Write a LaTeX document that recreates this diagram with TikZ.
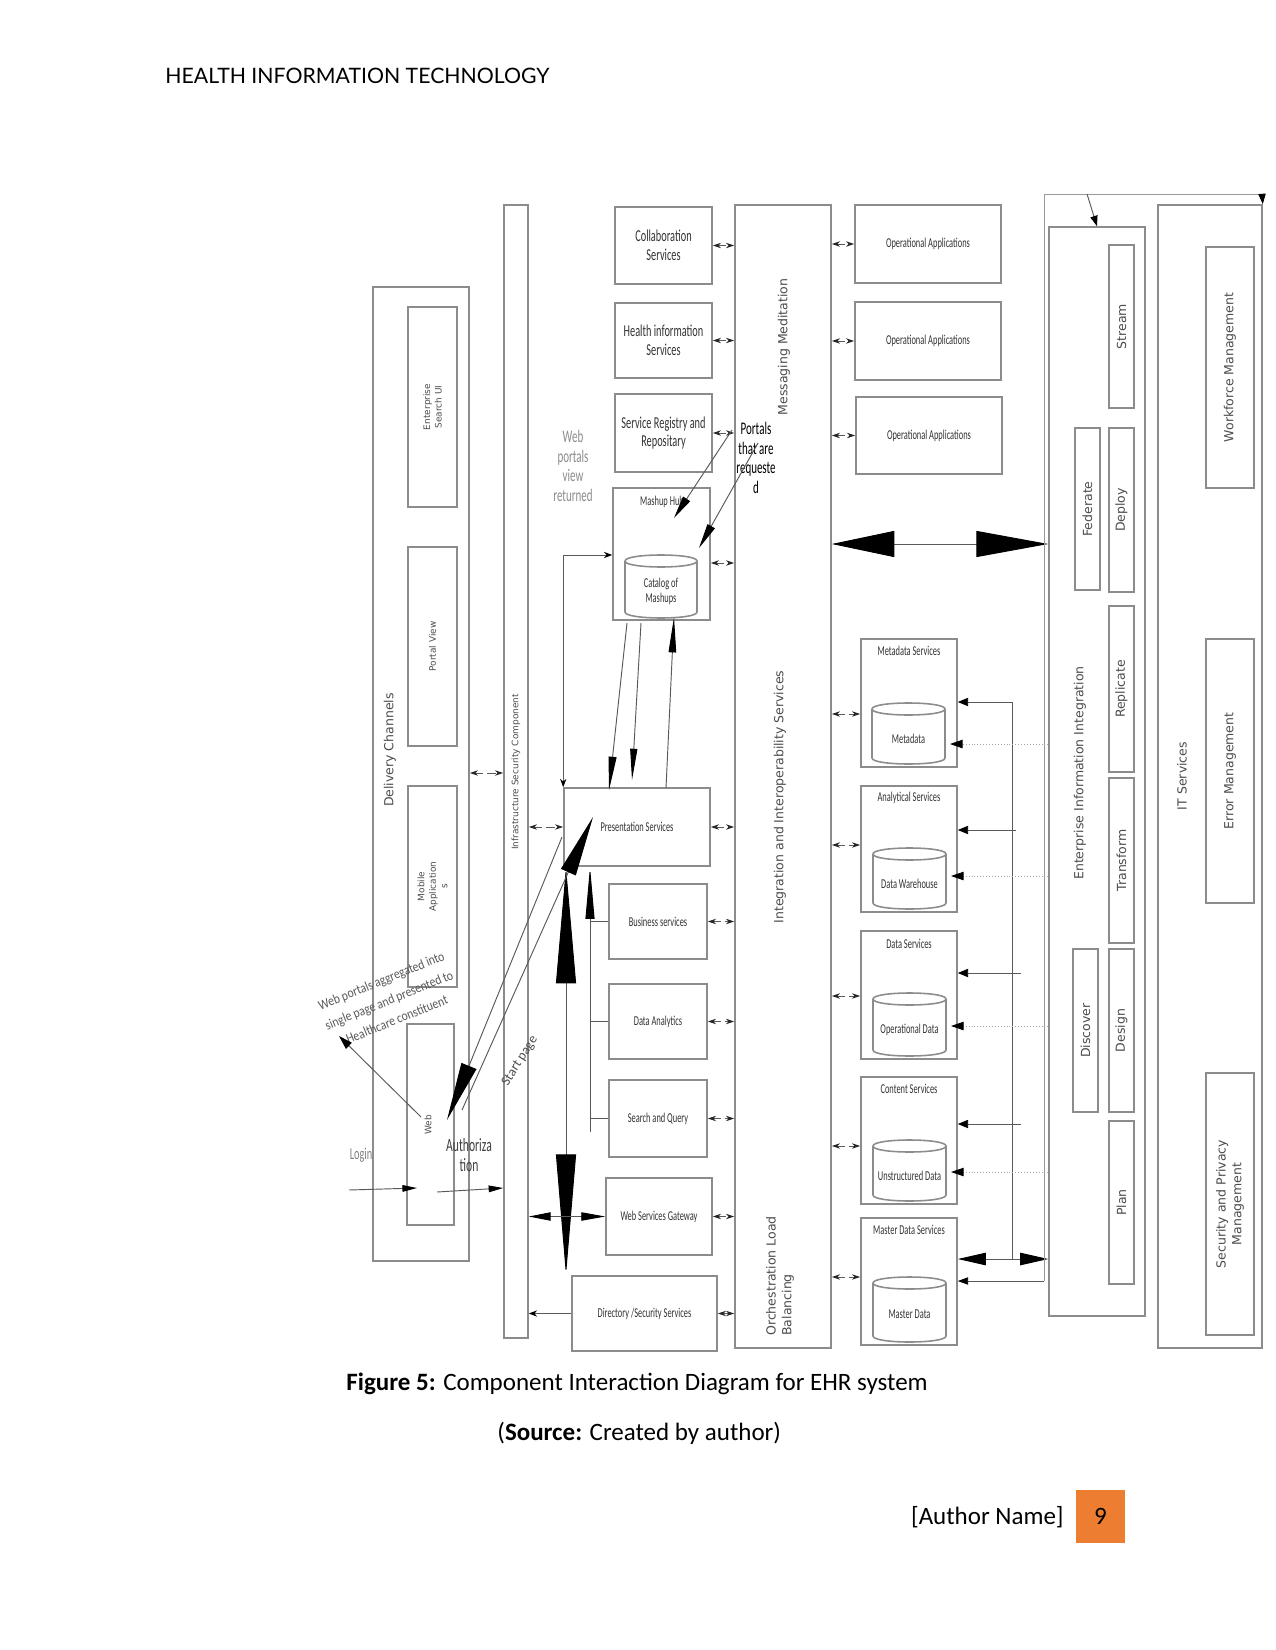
\documentclass[tikz,border=0pt]{standalone}
\usepackage{fontspec}
\setmainfont{Carlito}
\newfontfamily\latofont{Lato}
\newfontfamily\nrw[FakeStretch=0.62]{Carlito}
\newfontfamily\mnrw[FakeStretch=0.85]{Carlito}
\newfontfamily\dvs{DejaVu Sans}
\usetikzlibrary{arrows.meta,fit}
\definecolor{pgorange}{HTML}{ED7D31}
\tikzset{
  bx/.style={draw=black!45, line width=0.75pt},
  ln/.style={draw=black!65, line width=0.45pt},
  sdbl/.style={ln, {Stealth[length=4pt,width=2.6pt,color=black!85]}-{Stealth[length=4pt,width=2.6pt,color=black!85]}, dash pattern=on 4pt off 2pt},
  heavy/.style={draw=black!35, line width=0.4pt, densely dotted, -{Triangle[length=6pt,width=4pt,color=black]}},
  lab/.style={font=\nrw\fontsize{8}{9}\selectfont, text=black!80, align=center, inner sep=0pt},
  labs/.style={font=\nrw\fontsize{6.5}{7.5}\selectfont, text=black!80, align=center, inner sep=0pt},
  rlab/.style={rotate=90, font=\dvs\fontsize{6}{7.5}\selectfont, text=black!70, align=center, inner sep=0pt},
  rlabt/.style={rotate=90, font=\dvs\fontsize{4.3}{5.5}\selectfont, text=black!70, align=center, inner sep=0pt},
  free/.style={font=\fontsize{6.5}{7.5}\selectfont, text=black!70, align=center, inner sep=0pt},
}
\newcommand\mkbox[5]{\node[bx, inner sep=0pt, fit={(#2,#3) (#4,#5)}] (#1) {};}
\newcommand\mkcyl[6]{%
  \draw[bx] (#2,#3+6) .. controls (#2,#3-2) and (#4,#3-2) .. (#4,#3+6) .. controls (#4,#3+14) and (#2,#3+14) .. cycle;
  \draw[bx] (#2,#3+6) -- (#2,#5-6) .. controls (#2,#5+2) and (#4,#5+2) .. (#4,#5-6) -- (#4,#3+6);
  \node[labs] (#1) at ({(#2+#4)/2},{(#3+#5)/2+5}) {#6};
  \coordinate (#1-r) at (#4+5,#3);
}
\begin{document}
\begin{tikzpicture}[x=0.48pt,y=-0.48pt]
\path[use as bounding box, fill=white] (0,0) rectangle (1275,1650);

\node[anchor=west, inner sep=0pt, font=\latofont\fontsize{10.2}{12}\selectfont] (hdr) at (165,76) {HEALTH INFORMATION TECHNOLOGY};

% ---------- Delivery channels ----------
\mkbox{deliv}{373}{287}{469}{1261}
\node[rlab] (delivlab) at (390,750) {Delivery Channels};
\mkbox{esui}{408}{307}{457}{507}
\node[rlabt] (esuilab) at (esui) {Enterprise\\Search UI};
\mkbox{pview}{408}{547}{457}{746}
\node[rlabt] (pviewlab) at (pview) {Portal View};
\mkbox{mobapp}{408}{786}{457}{987}
\node[rlabt] (mobapplab) at (mobapp) {Mobile\\Application\\s};
\mkbox{webch}{407}{1024}{454}{1225}
\node[rlabt] (weblab) at (428,1125) {Web};

% ---------- Infrastructure ----------
\mkbox{infra}{504}{205}{528}{1338}
\node[rlabt] (infralab) at (516,772) {Infrastructure Security Component};

% ---------- Left services ----------
\mkbox{collab}{615}{207}{712}{284}
\node[lab] (collablab) at (collab) {Collaboration\\Services};
\mkbox{hinfo}{615}{303}{712}{378}
\node[lab] (hinfolab) at (hinfo) {Health information\\Services};
\mkbox{sreg}{615}{394}{712}{472}
\node[lab] (sreglab) at (sreg) {Service Registry and\\Repositary};
\mkbox{mashup}{613}{488}{710}{620}
\node[labs] (mashuplab) at (662,502) {Mashup Hub};
\mkcyl{cat}{625}{555}{697}{618}{Catalog of\\Mashups}
\mkbox{pres}{564}{788}{710}{866}
\node[labs] (preslab) at (pres) {Presentation Services};
\mkbox{bus}{609}{884}{707}{959}
\node[labs] (buslab) at (bus) {Business services};
\mkbox{dana}{609}{984}{707}{1059}
\node[labs] (danalab) at (dana) {Data Analytics};
\mkbox{sq}{609}{1080}{707}{1157}
\node[labs] (sqlab) at (sq) {Search and Query};
\mkbox{wsg}{606}{1178}{712}{1255}
\node[labs] (wsglab) at (wsg) {Web Services Gateway};
\mkbox{dir}{572}{1276}{717}{1351}
\node[labs] (dirlab) at (dir) {Directory /Security Services};

% ---------- Central column ----------
\mkbox{col}{735}{205}{831}{1348}
\node[rlab] (msglab) at (784,347) {Messaging Meditation};
\node[rlab] (intlab) at (780,797) {Integration and Interoperability Services};
\node[rlab, anchor=west, align=left] (orchlab) at (780,1336) {Orchestration Load\\Balancing};

% ---------- Operational apps ----------
\mkbox{oa1}{855}{205}{1001}{283}
\node[labs] (oa1lab) at (oa1) {Operational Applications};
\mkbox{oa2}{855}{302}{1001}{380}
\node[labs] (oa2lab) at (oa2) {Operational Applications};
\mkbox{oa3}{856}{397}{1002}{474}
\node[labs] (oa3lab) at (oa3) {Operational Applications};

% ---------- Data services ----------
\mkbox{mds}{861}{639}{957}{767}
\node[labs] (mdslab) at (909,651) {Metadata Services};
\mkcyl{mdcyl}{872}{703}{945}{764}{Metadata}
\mkbox{ans}{861}{786}{957}{912}
\node[labs] (anslab) at (909,798) {Analytical Services};
\mkcyl{dwcyl}{873}{848}{946}{909}{Data Warehouse}
\mkbox{dsv}{861}{931}{957}{1059}
\node[labs] (dsvlab) at (909,944) {Data Services};
\mkcyl{odcyl}{873}{993}{946}{1056}{Operational Data}
\mkbox{csv}{861}{1077}{957}{1204}
\node[labs] (csvlab) at (909,1089) {Content Services};
\mkcyl{udcyl}{873}{1140}{946}{1201}{Unstructured Data}
\mkbox{mdsv}{861}{1218}{957}{1345}
\node[labs] (mdsvlab) at (909,1230) {Master Data Services};
\mkcyl{mdacyl}{873}{1277}{946}{1342}{Master Data}

% ---------- Enterprise information integration ----------
\mkbox{eii}{1049}{227}{1145}{1316}
\node[rlab] (eiilab) at (1080,773) {Enterprise Information Integration};
\mkbox{stream}{1109}{245}{1134}{408}
\node[rlab] (streamlab) at (stream) {Stream};
\mkbox{fed}{1075}{428}{1100}{590}
\node[rlab] (fedlab) at (fed) {Federate};
\mkbox{deploy}{1109}{428}{1134}{592}
\node[rlab] (deploylab) at (deploy) {Deploy};
\mkbox{repl}{1109}{606}{1134}{772}
\node[rlab] (repllab) at (repl) {Replicate};
\mkbox{transf}{1109}{778}{1134}{943}
\node[rlab] (transflab) at (transf) {Transform};
\mkbox{disc}{1073}{949}{1098}{1112}
\node[rlab] (disclab) at (disc) {Discover};
\mkbox{design}{1109}{949}{1134}{1112}
\node[rlab] (designlab) at (design) {Design};
\mkbox{plan}{1109}{1121}{1134}{1284}
\node[rlab] (planlab) at (plan) {Plan};

% ---------- IT services ----------
\mkbox{its}{1158}{205}{1262}{1348}
\node[rlab] (itslab) at (1182,776) {IT Services};
\mkbox{wfm}{1206}{247}{1254}{488}
\node[rlab] (wfmlab) at (wfm) {Workforce Management};
\mkbox{errm}{1206}{639}{1254}{903}
\node[rlab] (errmlab) at (errm) {Error Management};
\mkbox{secm}{1206}{1073}{1254}{1335}
\node[rlab] (secmlab) at (secm) {Security and Privacy\\Management};

% ---------- free texts ----------
\node[font=\nrw\fontsize{8.5}{9.4}\selectfont, text=black!45, align=center, inner sep=0pt] (wpvr) at (573,466) {Web\\portals\\view\\returned};
\node[font=\nrw\fontsize{8.5}{9.4}\selectfont, text=black, align=center, inner sep=0pt] (ptar) at (756,458) {Portals\\that are\\requeste\\d};
\node[free, font=\mnrw\fontsize{6.6}{10}\selectfont, text=black!65, rotate=22] (wpagg) at (389,1000) {Web portals aggregated into\\single page and presented to\\Healthcare constituent};
\node[free, rotate=58] (stpg) at (520,1061) {Start page};
\node[free, font=\nrw\fontsize{8}{9}\selectfont, text=black!50] (login) at (361,1155) {Login};
\node[free, font=\nrw\fontsize{9}{10}\selectfont, text=black!75] (authz) at (469,1155) {Authoriza\\tion};

% ---------- small double arrows ----------
\draw[sdbl] (deliv.east |- 0,773) -- (infra.west |- 0,773);
\draw[sdbl] (collab.east) -- (collab.east -| col.west);
\draw[sdbl] (hinfo.east) -- (hinfo.east -| col.west);
\draw[sdbl] (sreg.east) -- (sreg.east -| col.west);
\draw[sdbl] (mashup.east |- 0,563) -- (col.west |- 0,563);
\draw[sdbl] (infra.east |- pres.west) -- (pres.west);
\draw[sdbl] (pres.east) -- (pres.east -| col.west);
\draw[sdbl] (bus.east) -- (bus.east -| col.west);
\draw[sdbl] (dana.east) -- (dana.east -| col.west);
\draw[sdbl] (sq.east) -- (sq.east -| col.west);
\draw[sdbl] (wsg.east) -- (wsg.east -| col.west);
\draw[sdbl] (dir.east) -- (dir.east -| col.west);
\draw[sdbl] (oa1.west -| col.east) -- (oa1.west);
\draw[sdbl] (oa2.west -| col.east) -- (oa2.west);
\draw[sdbl] (oa3.west -| col.east) -- (oa3.west);
\draw[sdbl] (col.east |- 0,714) -- (mds.west |- 0,714);
\draw[sdbl] (col.east |- 0,845) -- (ans.west |- 0,845);
\draw[sdbl] (col.east |- 0,996) -- (dsv.west |- 0,996);
\draw[sdbl] (col.east |- 0,1146) -- (csv.west |- 0,1146);
\draw[sdbl] (col.east |- 0,1277) -- (mdsv.west |- 0,1277);

% ---------- mashup / presentation connectors ----------
\draw[ln, {Stealth[length=4pt,width=3pt,color=black]}-{Stealth[length=4pt,width=3pt,color=black]}] (pres.north west) -- (pres.north west |- 0,555) -- (mashup.west |- 0,555);
\coordinate (c1) at (627,623); \coordinate (c2) at (641,623); \coordinate (p3) at (666,788);
\draw[ln, -{Triangle[length=16pt,width=3.8pt,color=black]}] (c1) -- (609,790);
\draw[ln, -{Triangle[length=15pt,width=3.4pt,color=black]}] (c2) -- (632,780);
\draw[ln, -{Triangle[length=17pt,width=3.6pt,color=black]}] (p3) -- (674,617);
\coordinate (pt1) at (732,430); \coordinate (pt2) at (758,443);
\draw[ln, -{Triangle[length=11pt,width=4pt,color=black]}] (pt1) -- (674,518);
\draw[ln, -{Triangle[length=12pt,width=4pt,color=black]}] (pt2) -- (699,548);

% bracket
\coordinate (brk) at (590,1132);
\draw[ln, -{Triangle[length=25pt,width=4.3pt,color=black]}] (brk) -- (brk |- pres.south);
\draw[ln] (brk |- bus.west) -- (bus.west);
\draw[ln] (brk |- dana.west) -- (dana.west);
\draw[ln] (brk |- sq.west) -- (sq.west);

% big vertical double arrow
\draw[ln, {Triangle[length=56pt,width=9.6pt,color=black]}-{Triangle[length=58pt,width=9.6pt,color=black]}] (pres.south -| 566,0) -- (dir.north -| 566,0);

% web diagonals
\coordinate (wx) at (462,1110); \coordinate (wy) at (562,837);
\draw[ln, -{Triangle[length=29pt,width=7.7pt,color=black]}] (wx) -- (593,817);
\draw[ln, -{Triangle[length=28pt,width=7.7pt,color=black]}] (wy) -- (447,1120);
\coordinate (wpa) at (421,1117);
\draw[ln, -{Triangle[length=6.7pt,width=4pt,color=black]}] (wpa) -- (339,1036);

% login / authorization
\coordinate (lg1) at (349,1190); \coordinate (lg2) at (417,1188);
\draw[ln, -{Triangle[length=7pt,width=3.2pt,color=black]}] (lg1) -- (lg2);
\coordinate (au1) at (437,1192);
\draw[ln, -{Triangle[length=7pt,width=3.2pt,color=black]}] (au1) -- (infra.west |- 0,1188);

% web services gateway / directory
\draw[ln, {Triangle[length=10.5pt,width=4pt,color=black]}-{Triangle[length=11.5pt,width=4pt,color=black]}] (infra.east |- wsg.west) -- (wsg.west);
\draw[ln, -{Stealth[length=4pt,width=3pt,color=black]}] (dir.west) -- (infra.east |- dir.west);

% big horizontal double arrow
\draw[ln, {Triangle[length=30pt,width=12.5pt,color=black]}-{Triangle[length=34.5pt,width=12.5pt,color=black]}] (col.east |- 0,544) -- (eii.west |- 0,544);

% ---------- right network ----------
\coordinate (vn) at (1012,702);
\draw[ln] (vn) -- (1012,1259);
\draw[ln, -{Triangle[length=5pt,width=4pt,color=black]}] (vn) -- (mds.east |- vn);
\coordinate (an1) at (1016,830);
\draw[ln, -{Triangle[length=5pt,width=4pt,color=black]}] (an1) -- (ans.east |- an1);
\coordinate (ds1) at (1021,973);
\draw[ln, -{Triangle[length=5pt,width=4pt,color=black]}] (ds1) -- (dsv.east |- ds1);
\coordinate (cs1) at (1021,1124);
\draw[ln, -{Triangle[length=5pt,width=4pt,color=black]}] (cs1) -- (csv.east |- cs1);
\draw[heavy] (eii.west |- 0,744) -- (mdcyl-r |- 0,744);
\draw[heavy] (eii.west |- 0,876) -- (dwcyl-r |- 0,876);
\draw[heavy] (eii.west |- 0,1026) -- (odcyl-r |- 0,1026);
\draw[heavy] (eii.west |- 0,1172) -- (udcyl-r |- 0,1172);
\draw[ln, {Triangle[length=13.5pt,width=6pt,color=black]}-{Triangle[length=13.5pt,width=6pt,color=black]}] (mdsv.east |- 0,1259) -- (eii.west |- 0,1259);

% feedback loop
\coordinate (lpA) at (1044,194); \coordinate (lpB) at (1262,194);
\coordinate (lpC) at (1044,1281); \coordinate (lpD) at (1087,194);
\draw[draw=black!40, line width=0.45pt] (lpC) -- (lpA) -- (lpB);
\draw[ln, -{Triangle[length=5pt,width=3.5pt,color=black]}] (lpB) -- (its.north east);
\draw[ln, -{Triangle[length=5pt,width=3.5pt,color=black]}] (lpD) -- (eii.north -| 1097,0);
\draw[ln, -{Triangle[length=5pt,width=3.5pt,color=black]}] (lpC) -- (mdsv.east |- lpC);

% ---------- caption & footer ----------
\node[anchor=west, inner sep=0pt, font=\fontsize{12}{14}\selectfont] (cap) at (346,1384) {\textbf{Figure 5:} Component Interaction Diagram for EHR system};
\node[anchor=west, inner sep=0pt, font=\fontsize{12}{14}\selectfont] (src) at (497,1433) {(\textbf{Source:} Created by author)};
\node[anchor=east, inner sep=0pt, font=\fontsize{12}{14}\selectfont] (auth) at (1064,1517) {[Author Name]};
\node[fill=pgorange, minimum width=23.5pt, minimum height=25.4pt, inner sep=0pt, font=\fontsize{12}{14}\selectfont] (pgnum) at (1100.5,1516.5) {9};
\end{tikzpicture}
\end{document}
